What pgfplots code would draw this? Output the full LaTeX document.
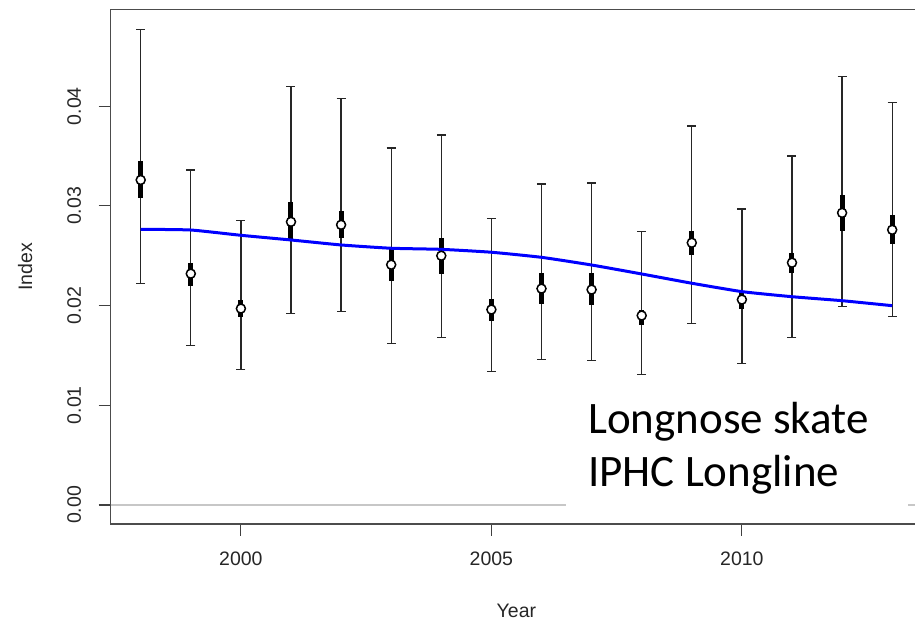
\documentclass[border=0pt]{standalone}
\usepackage{pgfplots}
\pgfplotsset{compat=1.18}
\usepackage{pgfplotstable}
\usepackage{fontspec}
\setmainfont{Liberation Sans}
\newfontfamily\calfont{Carlito}

\pgfplotstableread{
year  y       lo      hi      tlo     thi
1998  0.0326  0.0222  0.0477  0.0308  0.0345
1999  0.0232  0.0160  0.0336  0.0220  0.0243
2000  0.0197  0.0136  0.0285  0.0189  0.0206
2001  0.0284  0.0192  0.0420  0.0267  0.0304
2002  0.0281  0.0194  0.0408  0.0268  0.0295
2003  0.0241  0.0162  0.0358  0.0225  0.0257
2004  0.0250  0.0168  0.0371  0.0232  0.0268
2005  0.0196  0.0134  0.0287  0.0185  0.0207
2006  0.0217  0.0146  0.0322  0.0202  0.0233
2007  0.0216  0.0145  0.0323  0.0201  0.0233
2008  0.0190  0.0131  0.0274  0.0181  0.0196
2009  0.0263  0.0182  0.0380  0.0251  0.0275
2010  0.0206  0.0142  0.0297  0.0197  0.0214
2011  0.0243  0.0168  0.0350  0.0233  0.0253
2012  0.0293  0.0199  0.0430  0.0275  0.0311
2013  0.0276  0.0189  0.0404  0.0262  0.0291
}\idx

\pgfplotstableread{
year  fit
1998  0.02765
1999  0.02758
2000  0.02705
2001  0.02658
2002  0.02608
2003  0.02575
2004  0.02564
2005  0.02535
2006  0.02484
2007  0.02407
2008  0.02317
2009  0.02224
2010  0.02140
2011  0.02089
2012  0.02049
2013  0.01999
}\trend

\begin{document}
\begin{tikzpicture}
\useasboundingbox (0,0) rectangle (915pt,621pt);
\clip (0,0) rectangle (915pt,621pt);
\begin{axis}[
  at={(110.64pt,97.1pt)}, anchor=south west,
  scale only axis, width=811.6pt, height=514.4pt,
  xmin=1997.4, xmax=2013.6, ymin=-0.0019, ymax=0.0497,
  xtick={2000,2005,2010}, ytick={0,0.01,0.02,0.03,0.04},
  scaled y ticks=false,
  xtick pos=bottom, ytick pos=left,
  tick align=outside, major tick length=12pt,
  xticklabel shift=12pt, yticklabel shift=14pt,
  tick style={black!75, line width=1.2pt},
  axis line style={black!70, line width=1.3pt},
  tick label style={font=\fontsize{19.5}{23}\selectfont, text=black!85},
  label style={font=\fontsize{19.5}{23}\selectfont, text=black!85},
  /pgf/number format/assume math mode=true,
  xticklabel style={/pgf/number format/set thousands separator={}},
  yticklabel style={/pgf/number format/fixed, /pgf/number format/fixed zerofill, /pgf/number format/precision=2},
  y tick label style={rotate=90, anchor=south},
  xlabel={Year}, ylabel={Index},
  x label style={at={(axis description cs:0.5,-0.1827)}, anchor=base},
  y label style={at={(axis description cs:-0.0969,0.5)}, anchor=base},
  clip=false,
]
\addplot[black!22, line width=1.3pt, forget plot] coordinates {(1997.4,0) (2013.6,0)};
\fill[white] (axis cs:2006.49,-0.0012) rectangle (axis cs:2013.32,0.0112);
\node[anchor=base west, inner sep=0pt, font=\calfont\fontsize{45}{54}\selectfont] at (axis cs:2006.93,0.00719) {Longnose skate};
\node[anchor=base west, inner sep=0pt, font=\calfont\fontsize{45}{54}\selectfont] at (axis cs:2006.93,0.00184) {IPHC Longline};
% whiskers
\addplot[only marks, mark=none,
  error bars/.cd, y dir=both, y explicit,
  error bar style={draw=black!85, line width=1.3pt},
  error mark options={rotate=90, draw=black!85, line width=1.3pt, mark size=4.5pt}]
  table[x=year, y=y, y error plus expr=\thisrow{hi}-\thisrow{y}, y error minus expr=\thisrow{y}-\thisrow{lo}] {\idx};
% thick bars
\addplot[only marks, mark=none,
  error bars/.cd, y dir=both, y explicit, error mark=none,
  error bar style={draw=black, line width=5pt}]
  table[x=year, y=y, y error plus expr=\thisrow{thi}-\thisrow{y}, y error minus expr=\thisrow{y}-\thisrow{tlo}] {\idx};
% trend
\addplot[blue, line width=3pt, smooth, tension=0.3, mark=none] table[x=year, y=fit] {\trend};
% points
\addplot[only marks, mark=*, mark size=4.5pt, mark options={fill=white, draw=black, line width=1.5pt}]
  table[x=year, y=y] {\idx};
\end{axis}
\end{tikzpicture}
\end{document}
